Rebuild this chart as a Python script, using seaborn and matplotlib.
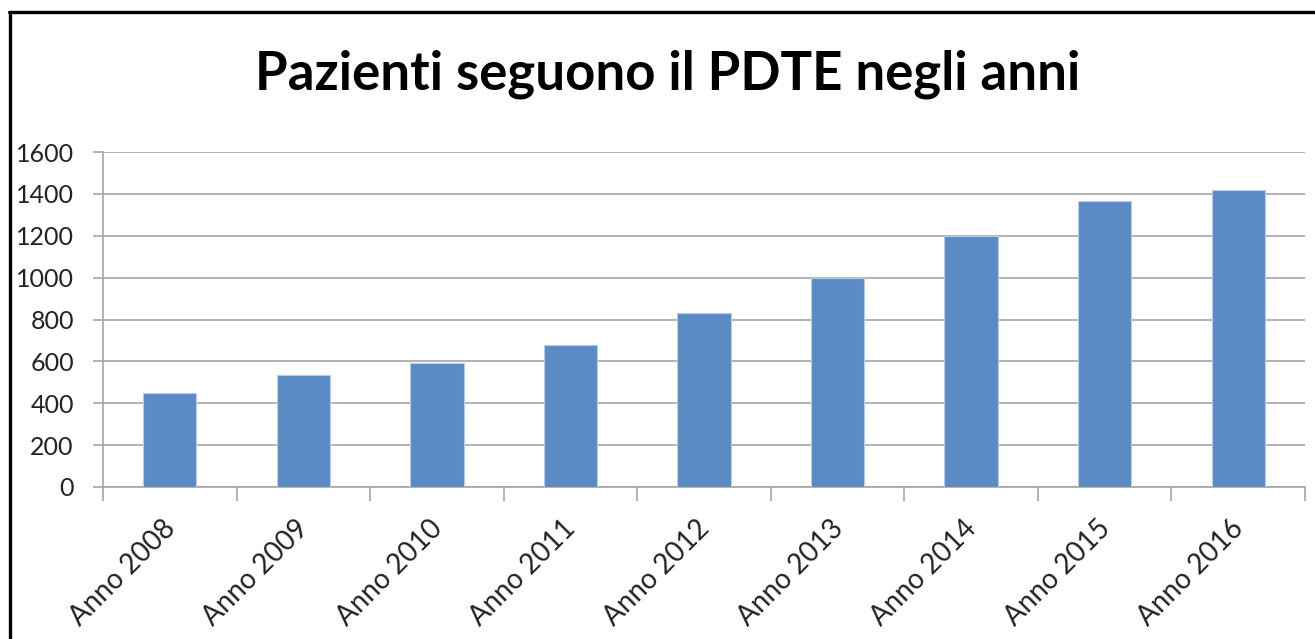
import numpy as np
import pandas as pd
import matplotlib
matplotlib.use("Agg")
import matplotlib.pyplot as plt
import matplotlib.transforms as mtransforms
import seaborn as sns
from matplotlib.lines import Line2D

# data
years = ["Anno 2008", "Anno 2009", "Anno 2010", "Anno 2011", "Anno 2012",
         "Anno 2013", "Anno 2014", "Anno 2015", "Anno 2016"]
pazienti = [450, 537, 590, 677, 832, 997, 1200, 1365, 1420]
y_ticks = [0, 200, 400, 600, 800, 1000, 1200, 1400, 1600]
title = "Pazienti seguono il PDTE negli anni"

sns.set_style("white")
plt.rcParams["font.family"] = ["Lato", "DejaVu Sans"]

df = pd.DataFrame({"anno": years, "pazienti": pazienti})

fig = plt.figure(figsize=(13.15, 6.39), dpi=100)
ax = fig.add_axes([103 / 1315, 1 - 487 / 639, 1202 / 1315, 335 / 639])

sns.barplot(data=df, x="anno", y="pazienti", ax=ax, color="#5b8bc4",
            width=0.4, saturation=1, edgecolor="#b7cbe6", linewidth=0.8,
            zorder=3)

grid_col = "#a6a6a6"
ax.set_ylim(0, 1600)
ax.set_xlim(-0.5, len(years) - 0.5)
ax.set_yticks(y_ticks)
ax.yaxis.grid(True, color=grid_col, linewidth=1.2, zorder=0)
ax.set_xlabel("")
ax.set_ylabel("")

for s in ["top", "right"]:
    ax.spines[s].set_visible(False)
for s in ["left", "bottom"]:
    ax.spines[s].set_color(grid_col)
    ax.spines[s].set_linewidth(1.2)

ax.tick_params(axis="y", left=True, length=7, width=1.2, color=grid_col,
               labelsize=18, pad=14, labelcolor="#222222")
# category labels at the centres, tick marks on the boundaries
ax.set_xticks(range(len(years)))
ax.set_xticklabels(years, rotation=45, ha="right", rotation_mode="anchor")
ax.tick_params(axis="x", which="major", length=0, labelsize=20, pad=20,
               labelcolor="#222222")
ax.set_xticks(np.arange(-0.5, len(years)), minor=True)
ax.tick_params(axis="x", which="minor", bottom=True, length=10, width=1.2,
               color=grid_col)

# nudge the rotated labels so their ends sit under the bar centres
shift = mtransforms.ScaledTranslation(-8 / 100, 0, fig.dpi_scale_trans)
for lab in ax.get_xticklabels():
    lab.set_transform(lab.get_transform() + shift)

fig.text(0.508, 0.884, title, ha="center", va="center", fontsize=38,
         fontweight="bold", color="black")

# chart frame (left and top edges visible in the crop)
fig.add_artist(Line2D([9.5 / 1315, 9.5 / 1315], [0, 1 - 11.5 / 639],
                      transform=fig.transFigure, color="black", linewidth=2.4))
fig.add_artist(Line2D([8.5 / 1315, 1], [1 - 11.5 / 639, 1 - 11.5 / 639],
                      transform=fig.transFigure, color="black", linewidth=2.4))

fig.savefig("out.png", dpi=100, facecolor="white")
